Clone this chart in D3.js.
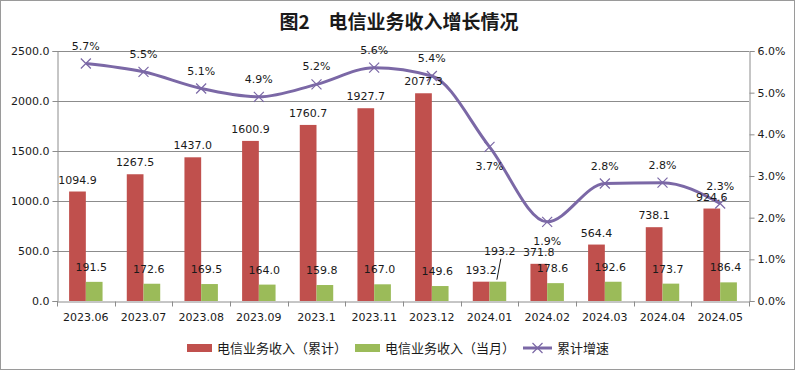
<!DOCTYPE html>
<html>
<head>
	<meta charset="UTF-8" />
	<title>图2 电信业务收入增长情况</title>
	<script src="https://cdn.jsdelivr.net/npm/d3@7"></script>
	<style>
		body { margin: 0; background: #fff; }
		text { fill: #1a1a1a; }
	</style>
</head>
<body>
	<div id="chart"></div>
	<script type="text/javascript">
		// data
		var months = ["2023.06","2023.07","2023.08","2023.09","2023.1","2023.11","2023.12","2024.01","2024.02","2024.03","2024.04","2024.05"];
		var cumulative = [1094.9,1267.5,1437.0,1600.9,1760.7,1927.7,2077.3,193.2,371.8,564.4,738.1,924.6];
		var monthly = [191.5,172.6,169.5,164.0,159.8,167.0,149.6,193.2,178.6,192.6,173.7,186.4];
		var growth = [5.7,5.5,5.1,4.9,5.2,5.6,5.4,3.7,1.9,2.82,2.84,2.34];
		var leftTicks = [0,500,1000,1500,2000,2500];
		var rightTicks = [0,1,2,3,4,5,6];
		var legendNames = ["电信业务收入（累计）","电信业务收入（当月）","累计增速"];

		var W = 795, H = 370;
		var red = "#c0504d", green = "#9bbb59", purple = "#7b68a6";
		var numFont = "DejaVu Sans", cjkFont = "Noto Sans CJK SC";

		var svg = d3.select("#chart").append("svg")
			.attr("width", W).attr("height", H);

		svg.append("rect")
			.attr("x",0.5).attr("y",0.5).attr("width",W-1).attr("height",H-1)
			.attr("fill","#fff").attr("stroke","#9a9a9a");

		svg.append("text")
			.attr("x",399).attr("y",29)
			.attr("text-anchor","middle")
			.style("font-family",cjkFont).style("font-weight","bold").style("font-size","19px")
			.text("图2　电信业务收入增长情况");

		var L = 57, R = 749, T = 51, B = 301;

		var x = d3.scaleBand().domain(months).range([L,R]);
		var y = d3.scaleLinear().domain([0,2500]).range([B,T]);
		var y2 = d3.scaleLinear().domain([0,6]).range([B,T]);
		var bw = x.bandwidth()*0.29;
		var cx = function(i) { return x(months[i]) + x.bandwidth()/2; };

		// gridlines
		svg.append("g").selectAll("line").data(leftTicks.slice(1)).enter().append("line")
			.attr("x1",L).attr("x2",R)
			.attr("y1",function(d){ return Math.round(y(d))+0.5; })
			.attr("y2",function(d){ return Math.round(y(d))+0.5; })
			.attr("stroke","#8c8c8c");

		// axes
		var gl = svg.append("g").attr("transform","translate("+(L+0.5)+",0)")
			.call(d3.axisLeft(y).tickValues(leftTicks).tickFormat(d3.format(".1f")).tickSize(5).tickPadding(3));
		var gr = svg.append("g").attr("transform","translate("+(R+0.5)+",0)")
			.call(d3.axisRight(y2).tickValues(rightTicks).tickFormat(function(d){ return d.toFixed(1)+"%"; }).tickSize(5).tickPadding(3));
		var gb = svg.append("g").attr("transform","translate(0,"+(B+0.5)+")")
			.call(d3.axisBottom(x).tickSize(0).tickPadding(12));
		// tick marks on band boundaries
		gb.selectAll(".bound").data(d3.range(months.length+1)).enter().append("line")
			.attr("x1",function(i){ return Math.round(L + i*x.step())+0.5; })
			.attr("x2",function(i){ return Math.round(L + i*x.step())+0.5; })
			.attr("y1",0).attr("y2",5).attr("stroke","#8c8c8c");
		[gl,gr,gb].forEach(function(g){
			g.selectAll(".domain").attr("stroke","#8c8c8c");
			g.selectAll(".tick line").attr("stroke","#8c8c8c");
			g.selectAll("text").style("font-family",numFont).style("font-size","11px").attr("fill","#1a1a1a");
		});

		// bars
		svg.append("g").selectAll("rect").data(cumulative).enter().append("rect")
			.attr("x",function(d,i){ return cx(i)-bw; })
			.attr("y",function(d){ return y(d); })
			.attr("width",bw).attr("height",function(d){ return B-y(d); })
			.attr("fill",red);
		svg.append("g").selectAll("rect").data(monthly).enter().append("rect")
			.attr("x",function(d,i){ return cx(i); })
			.attr("y",function(d){ return y(d); })
			.attr("width",bw).attr("height",function(d){ return B-y(d); })
			.attr("fill",green);

		// line
		var line = d3.line()
			.x(function(d,i){ return cx(i); })
			.y(function(d){ return y2(d); })
			.curve(d3.curveMonotoneX);
		svg.append("path").datum(growth)
			.attr("d",line).attr("fill","none")
			.attr("stroke",purple).attr("stroke-width",3);
		var mk = 5;
		var marks = svg.append("g").selectAll("g").data(growth).enter().append("g")
			.attr("transform",function(d,i){ return "translate("+cx(i)+","+y2(d)+")"; });
		marks.append("path")
			.attr("d","M"+(-mk)+","+(-mk)+"L"+mk+","+mk+"M"+(-mk)+","+mk+"L"+mk+","+(-mk))
			.attr("stroke",purple).attr("stroke-width",1.2);

		// labels
		var lab = svg.append("g").style("font-family",numFont).style("font-size","11px")
			.attr("text-anchor","middle");
		lab.selectAll(".lc").data(cumulative).enter().append("text")
			.attr("x",function(d,i){ return cx(i)-bw/2; })
			.attr("y",function(d){ return y(d)-8; })
			.text(function(d){ return d.toFixed(1); });
		lab.selectAll(".lm").data(monthly).enter().append("text")
			.attr("x",function(d,i){ return i==7 ? cx(i)+bw/2+2 : cx(i)+bw/2-3; })
			.attr("y",function(d,i){ return i==7 ? y(d)-27 : y(d)-11; })
			.text(function(d){ return d.toFixed(1); });
		// leader line for the 2024.01 monthly label
		svg.append("line")
			.attr("x1",cx(7)+bw/2+3).attr("y1",y(monthly[7])-23)
			.attr("x2",cx(7)+bw/2-1).attr("y2",y(monthly[7])-2)
			.attr("stroke","#1a1a1a").attr("stroke-width",1);
		lab.selectAll(".lg").data(growth).enter().append("text")
			.attr("x",function(d,i){ return cx(i); })
			.attr("y",function(d,i){ return (i==7 || i==8) ? y2(d)+23 : y2(d)-14; })
			.text(function(d){ return d.toFixed(1)+"%"; });

		// legend
		var lg = svg.append("g").style("font-family",cjkFont).style("font-size","13px");
		var ly = 348;
		lg.append("rect").attr("x",187).attr("y",ly-4).attr("width",25).attr("height",8).attr("fill",red);
		lg.append("text").attr("x",217).attr("y",ly+5).text(legendNames[0]);
		lg.append("rect").attr("x",355).attr("y",ly-4).attr("width",25).attr("height",8).attr("fill",green);
		lg.append("text").attr("x",385).attr("y",ly+5).text(legendNames[1]);
		lg.append("line").attr("x1",523).attr("x2",552).attr("y1",ly).attr("y2",ly)
			.attr("stroke",purple).attr("stroke-width",3);
		lg.append("path").attr("transform","translate(537.5,"+ly+")")
			.attr("d","M-5,-5L5,5M-5,5L5,-5").attr("stroke",purple).attr("stroke-width",1.2);
		lg.append("text").attr("x",557).attr("y",ly+5).text(legendNames[2]);
	</script>
</body>
</html>
